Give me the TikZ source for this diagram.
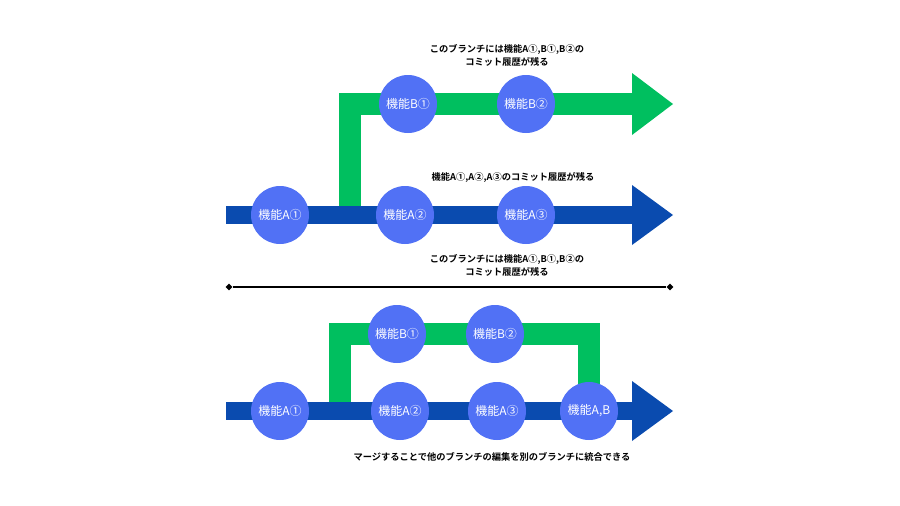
\documentclass[tikz,border=0pt]{standalone}
\usepackage{fontspec}
\setmainfont{Noto Sans CJK JP}[BoldFont={Noto Sans CJK JP Bold}]
\usetikzlibrary{positioning,calc,shapes.geometric}

\definecolor{trunkblue}{HTML}{0A4BAF}
\definecolor{commitblue}{HTML}{5171F5}
\definecolor{branchgreen}{HTML}{00BF5F}

\begin{document}
\begin{tikzpicture}[
      x=1pt,y=-1pt,
      commit/.style={circle,fill=commitblue,text=white,minimum size=58pt,inner sep=0pt,font=\fontsize{12}{14}\selectfont},
      note/.style={align=center,font=\fontsize{9.25}{13}\selectfont\bfseries},
      trunk/.style={draw=trunkblue,line width=18pt},
      branch/.style={draw=branchgreen,line width=22pt},
      enddot/.style={diamond,fill=black,inner sep=0pt,minimum size=7pt}
    ]
      \useasboundingbox (0,0) rectangle (900,506);

      % top: branch kept apart
      \coordinate (topstart) at (226,215);
      \coordinate (tophead) at (632,215);
      \coordinate (toptip) at (673,215);
      \coordinate (forkfoot) at (350,215);
      \coordinate (forkknee) at (350,104);
      \coordinate (bhead) at (632,104);
      \coordinate (btip) at (673,104);
      \draw[branch] (forkfoot)--(forkknee)--(bhead);
      \fill[branchgreen] ($(bhead)+(0,-31)$)--(btip)--($(bhead)+(0,31)$)--cycle;
      \draw[trunk] (topstart)--(tophead);
      \fill[trunkblue] ($(tophead)+(0,-30)$)--(toptip)--($(tophead)+(0,30)$)--cycle;

      \node[commit] (a1) at (280,215) {機能A①};
      \node[commit] (a2) at (405,215) {機能A②};
      \node[commit] (a3) at (526,215) {機能A③};
      \node[commit] (b1) at (408,104) {機能B①};
      \node[commit] (b2) at (526,104) {機能B②};

      \node[note] (topnote) at (507,55.5) {このブランチには機能A①,B①,B②の\\コミット履歴が残る};
      \node[note] (trunknote) at (513,177) {機能A①,A②,A③のコミット履歴が残る};
      \node[note] (lownote) at (507,265.5) {このブランチには機能A①,B①,B②の\\コミット履歴が残る};

      % separator
      \node[enddot] (sepL) at (229,287) {};
      \node[enddot] (sepR) at (670,287) {};
      \draw[line width=1.5pt] (sepL)--(sepR);

      % bottom: branch merged back
      \coordinate (mstart) at (226,411);
      \coordinate (mhead) at (632,411);
      \coordinate (mtip) at (673,411);
      \coordinate (mfoot) at (340,411);
      \coordinate (mknee) at (340,334);
      \coordinate (jknee) at (589,334);
      \coordinate (jfoot) at (589,411);
      \draw[branch] (mfoot)--(mknee)--(jknee)--(jfoot);
      \draw[trunk] (mstart)--(mhead);
      \fill[trunkblue] ($(mhead)+(0,-30)$)--(mtip)--($(mhead)+(0,30)$)--cycle;

      \node[commit] (m1) at (280,411) {機能A①};
      \node[commit] (m2) at (400,411) {機能A②};
      \node[commit] (m3) at (497,411) {機能A③};
      \node[commit] (mab) at (589,411) {機能A,B};
      \node[commit] (mb1) at (397,334) {機能B①};
      \node[commit] (mb2) at (495,334) {機能B②};

      \node[note] (mergenote) at (492,457) {マージすることで他のブランチの編集を別のブランチに統合できる};
    \end{tikzpicture}
\end{document}
